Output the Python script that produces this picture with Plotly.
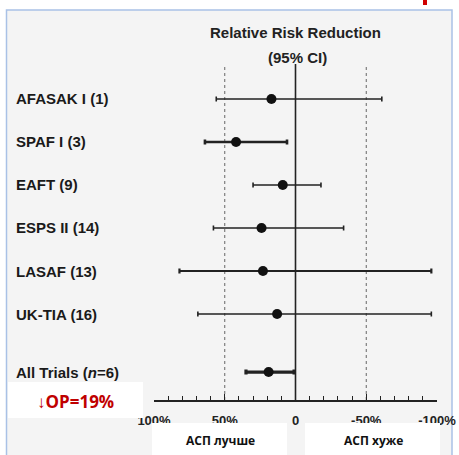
import plotly.graph_objects as go

# ---- data ----
trials = ["AFASAK I (1)", "SPAF I (3)", "EAFT (9)", "ESPS II (14)", "LASAF (13)", "UK-TIA (16)", "All Trials (<i>n</i>=6)"]
rrr = [17, 42, 9, 24, 23, 13, 19]
ci_high = [56, 64, 30, 58, 82, 69, 35]
ci_low = [-61, 6, -18, -34, -96, -96, 1]
line_w = [1.6, 2.6, 1.6, 1.6, 2.2, 1.6, 3.2]
tick_vals = [100, 50, 0, -50, -100]
tick_text = ["100%", "50%", "0", "-50%", "-100%"]
row_pos = [0, 1, 2, 3, 4, 5, 6.35]

W, H = 459, 455
def px(x):
    return x / W
def py(y):
    return 1 - y / H

FONT = "Liberation Sans"
fig = go.Figure()

for i in range(len(trials)):
    fig.add_trace(go.Scatter(
        x=[rrr[i]], y=[row_pos[i]], mode="markers",
        marker=dict(color="#111111", size=10),
        error_x=dict(type="data", symmetric=False,
                     array=[ci_high[i] - rrr[i]], arrayminus=[rrr[i] - ci_low[i]],
                     color="#222222", thickness=line_w[i], width=2.5),
        showlegend=False, hoverinfo="skip"))

shapes = []
shapes.append(dict(type="rect", xref="paper", yref="paper", x0=px(6.5), x1=px(452), y0=py(456), y1=py(10),
                   fillcolor="#f4f4f4", line=dict(color="#a9c1e6", width=1.5), layer="below"))
shapes.append(dict(type="rect", xref="paper", yref="paper", x0=px(423), x1=px(427), y0=py(5), y1=py(0),
                   fillcolor="#d00000", line=dict(width=0), layer="below"))
for v in tick_vals[1:4]:
    if v == 0:
        shapes.append(dict(type="line", xref="x", yref="paper", x0=v, x1=v, y0=py(400), y1=py(64),
                           line=dict(color="#222222", width=1.6), layer="below"))
    else:
        shapes.append(dict(type="line", xref="x", yref="paper", x0=v, x1=v, y0=py(400), y1=py(66),
                           line=dict(color="#666666", width=1, dash="dot"), layer="below"))
for (x0, x1, y0, y1) in [(8, 143, 382, 418), (152, 287, 423, 456), (305, 440, 423, 456)]:
    shapes.append(dict(type="rect", xref="paper", yref="paper", x0=px(x0), x1=px(x1), y0=py(y1), y1=py(y0),
                       fillcolor="white", line=dict(width=0), layer="above"))

ann = []
def add_text(text, x, y, size, color, family=FONT, xanchor="center", yref="paper"):
    ann.append(dict(text=text, x=x, y=y, xref="paper", yref=yref, xanchor=xanchor, yanchor="middle",
                    showarrow=False, font=dict(family=family, size=size, color=color)))

add_text("<b>Relative Risk Reduction</b>", px(295), py(33), 15, "#222222")
add_text("<b>(95% CI)</b>", px(297), py(57), 15, "#222222")
for i, t in enumerate(trials):
    add_text("<b>" + t + "</b>", px(14), row_pos[i], 15, "#1a1a1a", xanchor="left", yref="y")
add_text("<b>↓OP=19%</b>", px(75), py(401), 17, "#c00000", family="Open Sans")
add_text("<b>АСП лучше</b>", px(220), py(440), 12, "#111111", family="Open Sans")
add_text("<b>АСП хуже</b>", px(373), py(440), 12, "#111111", family="Open Sans")

fig.update_layout(
    width=W, height=H, margin=dict(l=0, r=0, t=0, b=0, pad=0), autosize=False,
    paper_bgcolor="white", plot_bgcolor="rgba(0,0,0,0)",
    shapes=shapes, annotations=ann,
    xaxis=dict(domain=[px(154), px(437)], range=[100, -100], tickvals=tick_vals,
               ticktext=["<b>" + t + "</b>" for t in tick_text],
               ticks="inside", ticklen=6, tickwidth=1.2, tickcolor="#222222",
               minor=dict(dtick=10, ticks="inside", ticklen=4, tickcolor="#222222", tickwidth=1.2),
               showline=True, linecolor="#222222", linewidth=1.8, showgrid=False, zeroline=False,
               ticklabelstandoff=7, automargin=False,
               tickfont=dict(family=FONT, size=13, color="#222222"), fixedrange=True),
    yaxis=dict(domain=[py(400), 1], range=[7.0, -2.302], visible=False, showgrid=False, zeroline=False,
               automargin=False),
)
fig.write_html("out.html")
